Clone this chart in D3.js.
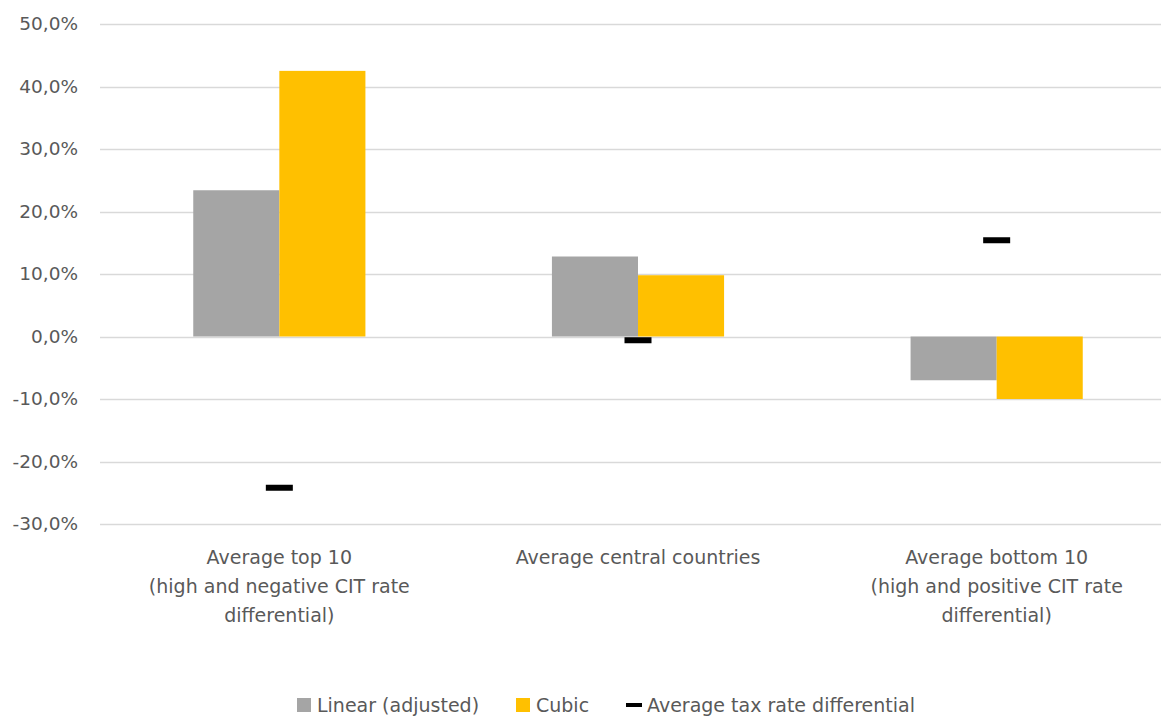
<!DOCTYPE html>
<html>
<head>
<meta charset="utf-8">
<script src="https://cdn.jsdelivr.net/npm/d3@7"></script>
<style>
  body { margin: 0; background: #fff; }
  svg text { font-family: "DejaVu Sans", sans-serif; fill: #595959; }
</style>
</head>
<body>
<div class="chart"></div>
<script>
// chart data
var categories = [
  ["Average top 10", "(high and negative CIT rate", "differential)"],
  ["Average central countries"],
  ["Average bottom 10", "(high and positive CIT rate", "differential)"]
];
var seriesNames = ["Linear (adjusted)", "Cubic"];
var linearValues = [0.234, 0.128, -0.070];
var cubicValues = [0.425, 0.098, -0.100];
var taxDiffValues = [-0.242, -0.006, 0.154];
var yTicks = [-0.3, -0.2, -0.1, 0, 0.1, 0.2, 0.3, 0.4, 0.5];

var width = 1161,
  height = 717;
var colors = ["#A5A5A5", "#FFC000"];

var locale = d3.formatLocale({ decimal: ",", thousands: ".", grouping: [3], currency: ["", "€"], minus: "-" });
var fmt = locale.format(".1%");

var svg = d3
  .select(".chart")
  .append("svg")
  .attr("width", width)
  .attr("height", height);

var yScale = d3.scaleLinear().domain([-0.3, 0.5]).range([524, 24]);

var x0 = d3
  .scaleBand()
  .domain(d3.range(categories.length))
  .range([100, 1176])
  .paddingInner(0.52)
  .paddingOuter(0.26);

var x1 = d3
  .scaleBand()
  .domain(seriesNames)
  .range([0, x0.bandwidth()]);

// gridlines
svg
  .append("g")
  .selectAll("line")
  .data(yTicks)
  .enter()
  .append("line")
  .attr("x1", 100)
  .attr("x2", 1176)
  .attr("y1", function(d) { return Math.round(yScale(d)) + 0.5; })
  .attr("y2", function(d) { return Math.round(yScale(d)) + 0.5; })
  .attr("stroke", "#D9D9D9")
  .attr("stroke-width", 1.5);

// y axis labels
var yAxis = d3.axisLeft(yScale).tickValues(yTicks).tickFormat(fmt).tickSize(0).tickPadding(22);
var yAxisGroup = svg
  .append("g")
  .attr("transform", "translate(100,0)")
  .call(yAxis);
yAxisGroup.select(".domain").remove();
yAxisGroup
  .selectAll("text")
  .style("font-family", "DejaVu Sans")
  .style("font-size", "18.5px")
  .attr("fill", "#595959");

// bars
var allSeries = [linearValues, cubicValues];
allSeries.forEach(function(vals, s) {
  svg
    .append("g")
    .selectAll("rect")
    .data(vals)
    .enter()
    .append("rect")
    .attr("x", function(d, i) { return x0(i) + x1(seriesNames[s]); })
    .attr("y", function(d) { return yScale(Math.max(0, d)); })
    .attr("width", x1.bandwidth())
    .attr("height", function(d) { return Math.abs(yScale(d) - yScale(0)); })
    .attr("fill", colors[s]);
});

// markers for tax rate differential
svg
  .append("g")
  .selectAll("rect")
  .data(taxDiffValues)
  .enter()
  .append("rect")
  .attr("x", function(d, i) { return x0(i) + x0.bandwidth() / 2 - 13.5; })
  .attr("y", function(d) { return yScale(d) - 3; })
  .attr("width", 27)
  .attr("height", 6)
  .attr("fill", "#000");

// category labels
var catGroup = svg
  .append("g")
  .selectAll("text")
  .data(categories)
  .enter()
  .append("text")
  .attr("text-anchor", "middle")
  .style("font-size", "19px")
  .attr("x", function(d, i) { return x0(i) + x0.bandwidth() / 2; });
catGroup
  .selectAll("tspan")
  .data(function(d) { return d; })
  .enter()
  .append("tspan")
  .attr("x", function() { return d3.select(this.parentNode).attr("x"); })
  .attr("y", function(d, j) { return 564 + j * 29; })
  .text(function(d) { return d; });

// legend
var legendItems = [
  { name: "Linear (adjusted)", type: "box", color: colors[0], x: 297 },
  { name: "Cubic", type: "box", color: colors[1], x: 516 },
  { name: "Average tax rate differential", type: "line", color: "#000", x: 626 }
];
var legend = svg
  .append("g")
  .selectAll("g")
  .data(legendItems)
  .enter()
  .append("g")
  .attr("transform", function(d) { return "translate(" + d.x + ",705)"; });
legend
  .filter(function(d) { return d.type === "box"; })
  .append("rect")
  .attr("x", 0)
  .attr("y", -7)
  .attr("width", 14)
  .attr("height", 14)
  .attr("fill", function(d) { return d.color; });
legend
  .filter(function(d) { return d.type === "line"; })
  .append("rect")
  .attr("x", 0)
  .attr("y", -2)
  .attr("width", 16)
  .attr("height", 4)
  .attr("fill", "#000");
legend
  .append("text")
  .attr("x", function(d) { return d.type === "line" ? 21 : 20; })
  .attr("y", 7)
  .style("font-size", "19px")
  .text(function(d) { return d.name; });
</script>
</body>
</html>
